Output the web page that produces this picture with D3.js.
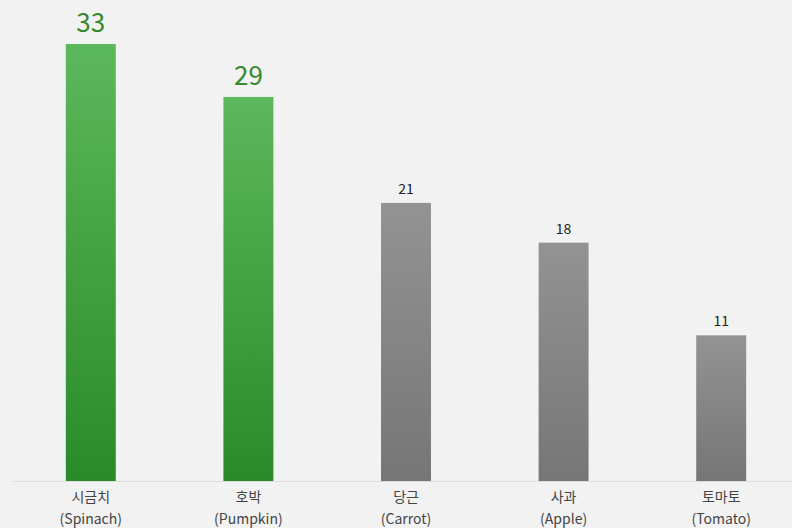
<!DOCTYPE html>
<html>
<head>
<meta charset="utf-8">
<script src="https://cdn.jsdelivr.net/npm/d3@7"></script>
<style>
  html, body { margin: 0; padding: 0; background: #f2f2f2; }
  svg { display: block; font-family: "Noto Sans CJK KR", "Noto Sans", sans-serif; }
</style>
</head>
<body>
<div id="container"></div>
<script>
const width = 792;
const height = 528;

// data
const koNames = ["시금치", "호박", "당근", "사과", "토마토"];
const enNames = ["(Spinach)", "(Pumpkin)", "(Carrot)", "(Apple)", "(Tomato)"];
const values = [33, 29, 21, 18, 11];
const highlight = [true, true, false, false, false];

const x = d3.scaleBand()
    .domain(koNames)
    .range([12, 800])
    .paddingInner(0.683)
    .paddingOuter(0.3415);

const y = d3.scaleLinear()
    .domain([0, 33])
    .range([481, 44]);

const svg = d3.select("div#container")
    .append("svg")
    .attr("width", width)
    .attr("height", height)
    .attr("viewBox", [0, 0, width, height]);

const defs = svg.append("defs");
const green = defs.append("linearGradient").attr("id", "gGreen")
    .attr("x1", 0).attr("y1", 0).attr("x2", 0).attr("y2", 1);
green.append("stop").attr("offset", "0%").attr("stop-color", "#5cb85c");
green.append("stop").attr("offset", "100%").attr("stop-color", "#2a8a28");
const gray = defs.append("linearGradient").attr("id", "gGray")
    .attr("x1", 0).attr("y1", 0).attr("x2", 0).attr("y2", 1);
gray.append("stop").attr("offset", "0%").attr("stop-color", "#939393");
gray.append("stop").attr("offset", "100%").attr("stop-color", "#767676");

// baseline
svg.append("line")
    .attr("x1", 13).attr("x2", width)
    .attr("y1", y(0) + 0.5).attr("y2", y(0) + 0.5)
    .attr("stroke", "#dcdcdc")
    .attr("stroke-width", 1);

const data = koNames.map((k, i) => ({ko: k, en: enNames[i], v: values[i], hi: highlight[i]}));

svg.selectAll("rect.bar")
    .data(data)
    .join("rect")
    .attr("class", "bar")
    .attr("x", d => x(d.ko))
    .attr("y", d => y(d.v))
    .attr("width", x.bandwidth())
    .attr("height", d => y(0) - y(d.v))
    .attr("fill", d => d.hi ? "url(#gGreen)" : "url(#gGray)");

// value labels
svg.selectAll("text.val")
    .data(data)
    .join("text")
    .attr("class", "val")
    .attr("x", d => x(d.ko) + x.bandwidth() / 2)
    .attr("y", d => y(d.v) - (d.hi ? 12 : 9))
    .attr("text-anchor", "middle")
    .attr("font-size", d => d.hi ? 26 : 14)
    .attr("fill", d => d.hi ? "#348a2c" : "#222")
    .text(d => d.v);

// category labels
const cat = svg.selectAll("g.cat")
    .data(data)
    .join("g")
    .attr("class", "cat")
    .attr("transform", d => `translate(${x(d.ko) + x.bandwidth() / 2},0)`);

cat.append("text")
    .attr("y", 502)
    .attr("text-anchor", "middle")
    .attr("font-size", 14)
    .attr("fill", "#444")
    .text(d => d.ko);

cat.append("text")
    .attr("y", 524)
    .attr("text-anchor", "middle")
    .attr("font-size", 14)
    .attr("fill", "#444")
    .text(d => d.en);
</script>
</body>
</html>
